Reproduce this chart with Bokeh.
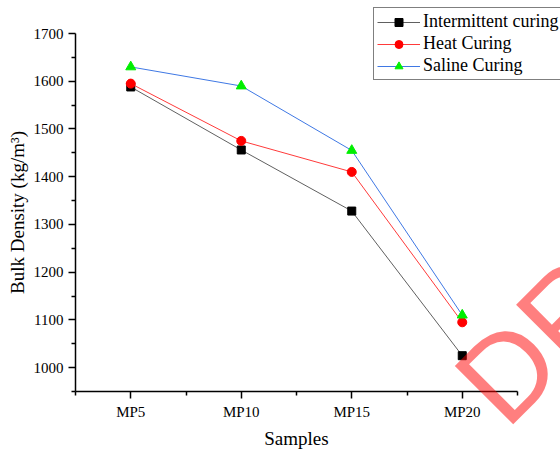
from bokeh.plotting import figure
from bokeh.models import (Range1d, FixedTicker, Legend, LegendItem, Label)
from bokeh.embed import file_html
from bokeh.resources import INLINE

samples = ["MP5", "MP10", "MP15", "MP20"]
intermittent = [1588, 1456, 1328, 1025]
heat = [1595, 1475, 1410, 1095]
saline = [1630, 1590, 1455, 1110]

xs = [i + 1 for i in range(len(samples))]

SERIF = "Liberation Serif"
W, H = 560, 451

# axis extents (data) and where they sit on the canvas (pixels)
X_LO, X_HI = 0.5, 4.5
Y_LO, Y_HI = 950, 1700
PX_L, PX_R = 75, 517
PX_T, PX_B = 33, 391
xs_per_px = (X_HI - X_LO) / (PX_R - PX_L)
ys_per_px = (Y_HI - Y_LO) / (PX_B - PX_T)

p = figure(width=W, height=H, output_backend="svg", toolbar_location=None,
           x_range=Range1d(X_LO - PX_L * xs_per_px, X_HI + (W - PX_R) * xs_per_px),
           y_range=Range1d(Y_LO - (H - PX_B) * ys_per_px, Y_HI + PX_T * ys_per_px),
           min_border_left=0, min_border_right=0, min_border_top=0, min_border_bottom=0)
p.outline_line_color = None
p.xgrid.visible = False
p.ygrid.visible = False
p.background_fill_color = "white"
p.border_fill_color = "white"

r1l = p.line(xs, intermittent, line_color="#606060", line_width=1)
r1m = p.scatter(xs, intermittent, marker="square", size=8, fill_color="black", line_color="black")
r2l = p.line(xs, heat, line_color="#ff3a3a", line_width=1)
r2m = p.scatter(xs, heat, marker="circle", size=9, fill_color="red", line_color="red")
r3l = p.line(xs, saline, line_color="#3f78e4", line_width=1)
r3m = p.scatter(xs, saline, marker="triangle", size=10, fill_color="#00ee00", line_color="#00ee00")

# x axis
xa = p.xaxis[0]
xa.ticker = FixedTicker(ticks=xs, minor_ticks=[x - 0.5 for x in xs] + [xs[-1] + 0.5])
xa.major_label_overrides = {x: s for x, s in zip(xs, samples)}
xa.axis_label = "Samples"
xa.fixed_location = Y_LO
xa.bounds = (X_LO, X_HI)

# y axis
ya = p.yaxis[0]
ya.ticker = FixedTicker(ticks=list(range(1000, 1701, 100)), minor_ticks=list(range(950, 1700, 100)))
ya.axis_label = "Bulk Density (kg/m³)"
ya.fixed_location = X_LO
ya.bounds = (Y_LO, Y_HI)

for ax in (xa, ya):
    ax.axis_line_width = 1.5
    ax.axis_line_color = "black"
    ax.major_tick_line_width = 1.5
    ax.minor_tick_line_width = 1.5
    ax.major_tick_out = 7
    ax.major_tick_in = 0
    ax.minor_tick_out = 4
    ax.minor_tick_in = 0
    ax.major_label_text_font = SERIF
    ax.major_label_text_font_size = "15px"
    ax.major_label_text_color = "black"
    ax.major_label_standoff = 5
    ax.axis_label_text_font = SERIF
    ax.axis_label_text_font_size = "19px"
    ax.axis_label_text_font_style = "normal"
    ax.axis_label_text_color = "black"
xa.axis_label_standoff = 5
ya.axis_label_standoff = 3

legend = Legend(items=[
    LegendItem(label="Intermittent curing", renderers=[r1l, r1m]),
    LegendItem(label="Heat Curing", renderers=[r2l, r2m]),
    LegendItem(label="Saline Curing", renderers=[r3l, r3m]),
], location=(373, H - 80))
legend.border_line_color = "black"
legend.border_line_width = 1
legend.background_fill_alpha = 1
legend.label_text_font = SERIF
legend.label_text_font_size = "18px"
legend.label_text_color = "black"
legend.glyph_width = 43
legend.glyph_height = 20
legend.label_height = 21
legend.label_standoff = 3
legend.spacing = 1
legend.padding = 3
legend.margin = 0
p.add_layout(legend)

wm = Label(x=476, y=H - 401, x_units="screen", y_units="screen", text="DRAFT",
           angle=45, angle_units="deg", text_font="Liberation Sans",
           text_font_style="normal", text_font_size="120px", text_color="red",
           text_alpha=0.5, text_align="left", text_baseline="alphabetic")
p.add_layout(wm)

open("out.html", "w").write(file_html(p, INLINE))
